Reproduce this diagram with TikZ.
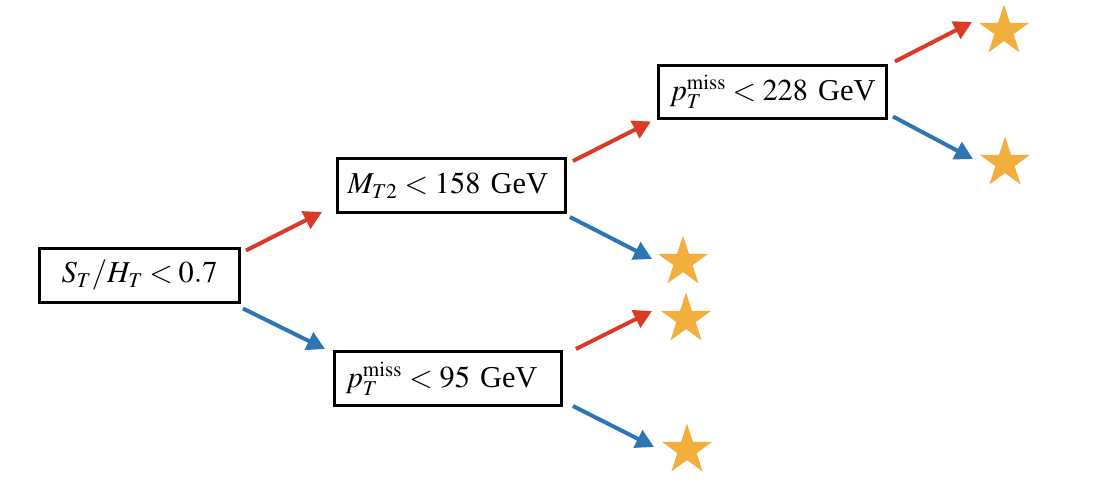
\documentclass[tikz,border=0pt]{standalone}
\usepackage{mathptmx}
\usepackage{fontspec}
\setmainfont{Liberation Serif}
\usetikzlibrary{arrows.meta, shapes.geometric}
\definecolor{cutred}{HTML}{DA3B26}
\definecolor{cutblue}{HTML}{2E75B6}
\definecolor{leafgold}{HTML}{F3AF3D}

\begin{document}
\begin{tikzpicture}[x=0.02cm, y=-0.02cm, font=\LARGE,
    cut/.style={draw=black, line width=0.06cm, minimum height=1.08cm,
                align=left, inner xsep=0.22cm},
    leaf/.style={star, star points=5, star point ratio=2.618, fill=leafgold,
                 minimum size=1.06cm, inner sep=0pt},
    pass/.style={-{Triangle[length=0.36cm, width=0.38cm]}, cutred,
                 line width=0.08cm},
    fail/.style={pass, cutblue}]
  \useasboundingbox (0,0) rectangle (1106,484);
  % cuts
  \node[cut, text width=3.12cm, inner xsep=0.44cm] (st) at (139.5,275)
    {$S_T/H_T < 0.7$};
  \node[cut, text width=4.16cm, inner xsep=0.2cm] (mt) at (451.5,185.5)
    {$M_{T2} < 158$ GeV};
  \node[cut, text width=4.12cm] (pthi) at (772.5,92)
    {$p_T^{\mathrm{miss}} < 228$ GeV};
  \node[cut, text width=4.1cm] (ptlo) at (448,378.5)
    {$p_T^{\mathrm{miss}} < 95$ GeV};
  % leaves
  \foreach \p [count=\i] in {(1004,31), (1005,163), (683,262), (686,319), (687,450)}
    \node[leaf] (s\i) at \p {};
  % branches
  \foreach \from/\fs/\to/\ts/\kind in {
      st.north east/{5,4}/mt.south west/{-14,-2}/pass,
      st.south east/{2,5}/ptlo.north west/{-8,-1}/fail,
      mt.north east/{6,4}/pthi.south west/{-6,1}/pass,
      mt.south east/{3,3}/s3.center/{-31,-3}/fail,
      ptlo.north east/{13,-1}/s4.center/{-34,-8}/pass,
      ptlo.south east/{10,-1}/s5.center/{-33,-3}/fail,
      pthi.north east/{7,-2}/s1.center/{-32,-9}/pass,
      pthi.south east/{5,-4}/s2.center/{-32,-4}/fail}
    \draw[\kind] ([shift={(\fs)}]\from) -- ([shift={(\ts)}]\to);
\end{tikzpicture}
\end{document}
